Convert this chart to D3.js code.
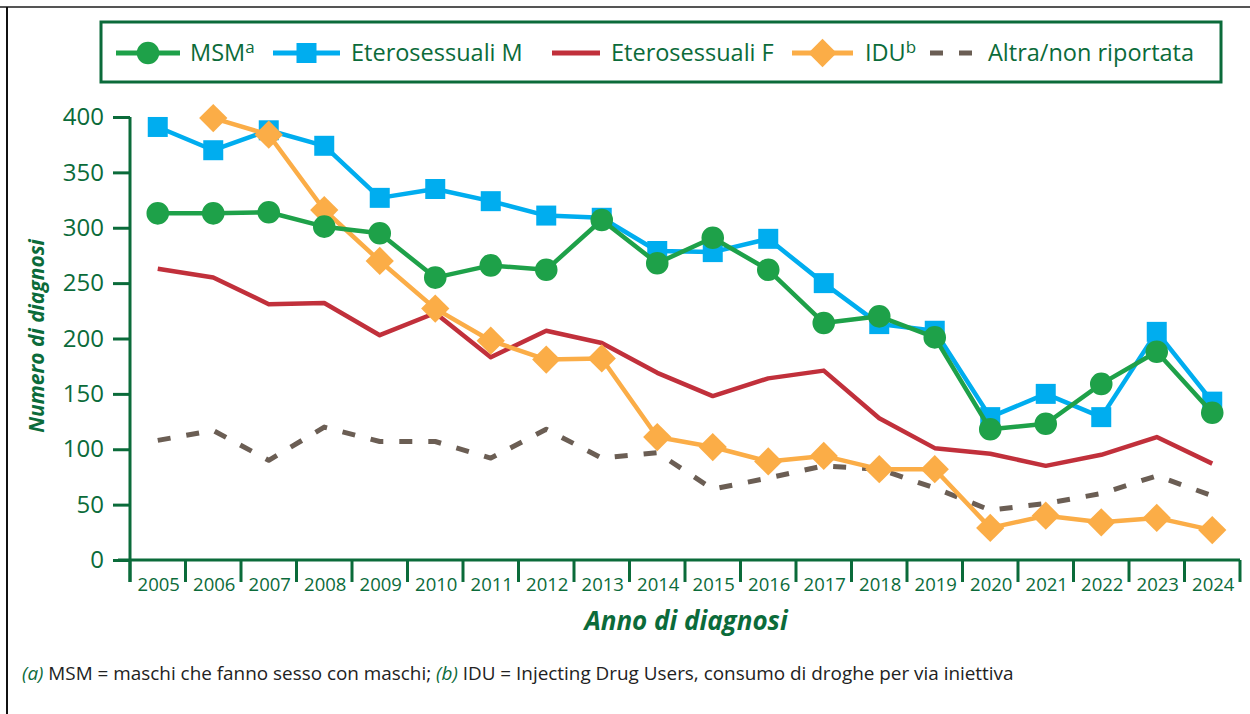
<!DOCTYPE html>
<html>
<head>
<meta charset="utf-8">
<script src="https://cdn.jsdelivr.net/npm/d3@7"></script>
<style>
  body { margin: 0; background: #fff; }
  svg { display: block; font-family: "Open Sans", sans-serif; }
</style>
</head>
<body>
<div id="chart"></div>
<script>
// Data
var years = ["2005","2006","2007","2008","2009","2010","2011","2012","2013","2014",
             "2015","2016","2017","2018","2019","2020","2021","2022","2023","2024"];
var msm    = [313,313,314,301,295,255,266,262,307,268,291,262,214,220,201,118,123,159,188,133];
var eteroM = [391,370,388,374,327,335,324,311,309,279,278,290,250,213,207,129,150,129,206,143];
var eteroF = [263,255,231,232,203,223,183,207,196,169,148,164,171,128,101,96,85,95,111,87];
var idu    = [null,399,384,316,270,227,198,181,182,111,102,89,94,82,82,29,40,34,38,27];
var altra  = [108,117,90,120,107,107,92,118,92,97,64,74,85,82,65,45,51,60,76,58];
var yTicks = [0,50,100,150,200,250,300,350,400];

var green = "#0b6b3a";

// SVG setup
var width = 1250, height = 714;
var svg = d3.select("#chart").append("svg")
	.attr("width", width).attr("height", height);

// Frame
svg.append("line").attr("x1",0).attr("x2",width).attr("y1",7).attr("y2",7)
	.attr("stroke","#555").attr("stroke-width",2);
svg.append("line").attr("x1",7).attr("x2",7).attr("y1",7).attr("y2",height)
	.attr("stroke","#111").attr("stroke-width",2);

// Scales
var x = d3.scaleBand().domain(years).range([130, 1240]).padding(0);
var y = d3.scaleLinear().domain([0, 400]).range([560, 117]);
var cx = function(i) { return x(years[i]) + x.bandwidth()/2; };

// Y axis
var yAxis = svg.append("g").attr("transform","translate(130,0)")
	.call(d3.axisLeft(y).tickValues(yTicks).tickSize(17).tickPadding(9));
yAxis.select(".domain").remove();
yAxis.append("line").attr("x1",0).attr("x2",0).attr("y1",y(400)).attr("y2",582)
	.attr("stroke",green).attr("stroke-width",3);
yAxis.selectAll(".tick line").attr("stroke",green).attr("stroke-width",3);
yAxis.selectAll(".tick text").attr("fill",green).attr("font-size","24px")
	.attr("font-family","Open Sans");

// X axis
var xAxis = svg.append("g").attr("transform","translate(0,560)");
xAxis.append("line").attr("x1",118).attr("x2",1240).attr("y1",0).attr("y2",0)
	.attr("stroke",green).attr("stroke-width",3);
xAxis.selectAll(".xt").data(years.concat(["end"])).enter().append("line")
	.attr("class","xt")
	.attr("x1", function(d) { return d === "end" ? 1240 : x(d); })
	.attr("x2", function(d) { return d === "end" ? 1240 : x(d); })
	.attr("y1",0).attr("y2",22)
	.attr("stroke",green).attr("stroke-width",3);
xAxis.selectAll(".xl").data(years).enter().append("text")
	.attr("class","xl")
	.text(function(d) { return d; })
	.attr("x", function(d) { return x(d) + x.bandwidth()/2 + 1; })
	.attr("y", 31)
	.attr("text-anchor","middle")
	.attr("font-size","18.5px")
	.attr("fill",green);

// Axis titles
svg.append("text").text("Anno di diagnosi")
	.attr("x",686).attr("y",630).attr("text-anchor","middle")
	.attr("font-size","26px").attr("font-weight","bold").attr("font-style","italic")
	.attr("fill",green);
svg.append("text").text("Numero di diagnosi")
	.attr("transform","translate(44,336) rotate(-90)").attr("text-anchor","middle")
	.attr("font-size","21px").attr("font-weight","bold").attr("font-style","italic")
	.attr("fill",green);

// Series
var series = [
	{name:"Altra/non riportata", values:altra, color:"#6b5e54", dash:"13,16", width:5, symbol:null},
	{name:"Eterosessuali F", values:eteroF, color:"#c1303b", dash:null, width:4.5, symbol:null},
	{name:"Eterosessuali M", values:eteroM, color:"#00adef", dash:null, width:4.5, symbol:"square"},
	{name:"IDU", values:idu, color:"#fbad47", dash:null, width:4.5, symbol:"diamond"},
	{name:"MSM", values:msm, color:"#1ea149", dash:null, width:4.5, symbol:"circle"}
];

var line = d3.line()
	.defined(function(d) { return d !== null; })
	.x(function(d, i) { return cx(i); })
	.y(function(d) { return y(d); });

function symbolPath(kind) {
	if (kind === "circle") return d3.symbol(d3.symbolCircle, 400)();
	return d3.symbol(d3.symbolSquare, 400)();
}

series.forEach(function(s) {
	var g = svg.append("g");
	g.append("path").attr("d", line(s.values))
		.attr("fill","none").attr("stroke",s.color).attr("stroke-width",s.width)
		.attr("stroke-dasharray", s.dash).attr("stroke-linejoin","round");
	if (s.symbol) {
		g.selectAll("path.m").data(s.values.map(function(v,i){ return {v:v,i:i}; })
				.filter(function(d){ return d.v !== null; }))
			.enter().append("path").attr("class","m")
			.attr("d", symbolPath(s.symbol))
			.attr("transform", function(d) {
				return "translate(" + cx(d.i) + "," + y(d.v) + ")" + (s.symbol === "diamond" ? " rotate(45)" : "");
			})
			.attr("fill", s.color);
	}
});

// Legend
var legend = svg.append("g");
legend.append("rect").attr("x",101).attr("y",22).attr("width",1120).attr("height",60)
	.attr("fill","#fff").attr("stroke",green).attr("stroke-width",3);
var legItems = [
	{label:"MSM", sup:"a", color:"#1ea149", symbol:"circle", x1:116, x2:180, tx:190},
	{label:"Eterosessuali M", sup:null, color:"#00adef", symbol:"square", x1:273, x2:340, tx:351},
	{label:"Eterosessuali F", sup:null, color:"#c1303b", symbol:null, x1:552, x2:600, tx:611},
	{label:"IDU", sup:"b", color:"#fbad47", symbol:"diamond", x1:792, x2:853, tx:865},
	{label:"Altra/non riportata", sup:null, color:"#6b5e54", symbol:null, dash:"13,16", x1:930, x2:976, tx:988}
];
legItems.forEach(function(d) {
	var ly = 53;
	legend.append("line").attr("x1",d.x1).attr("x2",d.x2).attr("y1",ly).attr("y2",ly)
		.attr("stroke",d.color).attr("stroke-width",5)
		.attr("stroke-dasharray", d.dash || null);
	if (d.symbol) {
		legend.append("path").attr("d", symbolPath(d.symbol))
			.attr("transform","translate(" + ((d.x1+d.x2)/2) + "," + ly + ")" + (d.symbol === "diamond" ? " rotate(45)" : ""))
			.attr("fill", d.color);
	}
	var t = legend.append("text").attr("x",d.tx).attr("y",ly+8)
		.attr("font-size","23.5px").attr("fill",green).text(d.label);
	if (d.sup) t.append("tspan").attr("font-size","17px").attr("dy",-8).text(d.sup);
});

// Footnote
var note = svg.append("text").attr("x",22).attr("y",680).attr("font-size","18.9px").attr("fill","#222");
note.append("tspan").attr("font-style","italic").attr("fill",green).text("(a)");
note.append("tspan").text(" MSM = maschi che fanno sesso con maschi; ");
note.append("tspan").attr("font-style","italic").attr("fill",green).text("(b)");
note.append("tspan").text(" IDU = Injecting Drug Users, consumo di droghe per via iniettiva");
</script>
</body>
</html>
